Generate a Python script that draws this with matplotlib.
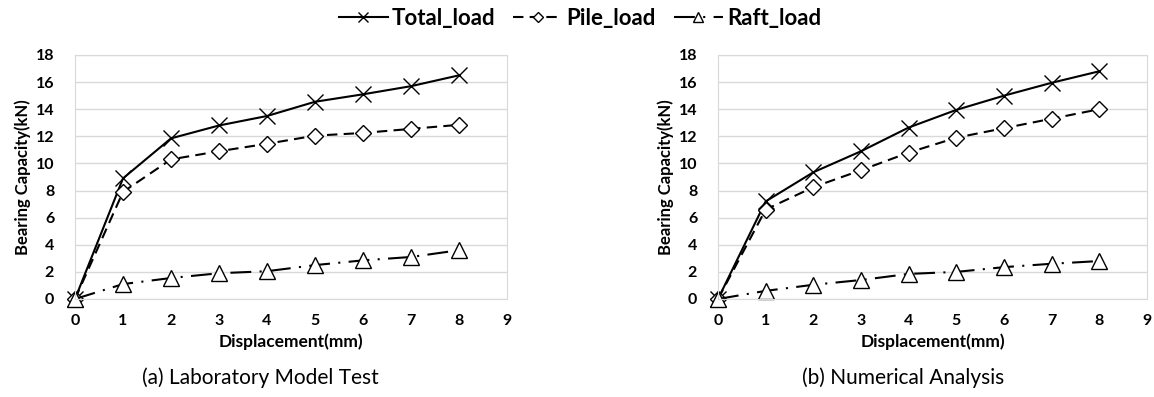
"""Bearing capacity vs displacement: lab test and numerical analysis."""

import matplotlib
matplotlib.use("Agg")
import matplotlib.pyplot as plt

plt.rcParams["font.family"] = ["Lato", "DejaVu Sans"]

displacement = [0, 1, 2, 3, 4, 5, 6, 7, 8]

lab_total = [0, 8.9, 11.85, 12.8, 13.5, 14.55, 15.1, 15.7, 16.5]
lab_pile = [0, 7.9, 10.3, 10.9, 11.45, 12.05, 12.25, 12.55, 12.85]
lab_raft = [0, 1.1, 1.55, 1.9, 2.05, 2.5, 2.85, 3.1, 3.6]

num_total = [0, 7.2, 9.35, 10.9, 12.65, 13.95, 15.0, 15.95, 16.8]
num_pile = [0, 6.6, 8.25, 9.5, 10.8, 11.9, 12.6, 13.3, 14.0]
num_raft = [0, 0.6, 1.05, 1.4, 1.85, 2.0, 2.35, 2.6, 2.8]

captions = ["(a) Laboratory Model Test", "(b) Numerical Analysis"]

W, H = 1154, 397


def draw(ax, total, pile, raft):
    ax.plot(displacement, total, color="black", lw=1.5, ls="-",
            marker="x", ms=11, mew=1.0, label="Total_load")
    ax.plot(displacement, pile, color="black", lw=1.5, ls=(0, (5, 3)),
            marker="D", ms=8, mfc="white", mew=1.0, label="Pile_load")
    ax.plot(displacement, raft, color="black", lw=1.5, ls=(0, (10, 4, 1, 4)),
            marker="^", ms=12, mfc="white", mew=1.0, label="Raft_load")
    ax.set_xlim(0, 9)
    ax.set_ylim(0, 18)
    ax.set_xticks(range(0, 10))
    ax.set_yticks(range(0, 19, 2))
    ax.grid(axis="y", color="#d9d9d9", lw=1.0)
    ax.set_axisbelow(True)
    for side in ax.spines.values():
        side.set_color("#d9d9d9")
    ax.tick_params(axis="y", length=0, labelsize=11.5, pad=15)
    ax.tick_params(axis="x", length=0, labelsize=11.5, pad=11)
    for lab in ax.get_xticklabels() + ax.get_yticklabels():
        lab.set_fontweight("bold")
    ax.set_xlabel("Displacement(mm)", fontsize=12.5, fontweight="bold", labelpad=4)
    ax.set_ylabel("Bearing Capacity(kN)", fontsize=12, fontweight="bold", labelpad=3)
    for line in ax.get_lines():
        line.set_clip_on(False)


fig = plt.figure(figsize=(W / 100, H / 100), dpi=100)
ax1 = fig.add_axes([75 / W, 1 - 299 / H, 432 / W, 244 / H])
ax2 = fig.add_axes([718 / W, 1 - 299 / H, 429 / W, 244 / H])

draw(ax1, lab_total, lab_pile, lab_raft)
draw(ax2, num_total, num_pile, num_raft)

fig.text(260 / W, 1 - 378 / H, captions[0], ha="center", va="center", fontsize=15)
fig.text(903 / W, 1 - 378 / H, captions[1], ha="center", va="center", fontsize=15)

handles, labels = ax1.get_legend_handles_labels()
leg = fig.legend(handles, labels, loc="center", bbox_to_anchor=(580 / W, 1 - 18 / H),
                 ncol=3, frameon=False, handlelength=2.2, handletextpad=0.2,
                 columnspacing=0.8, markerscale=0.6,
                 prop={"weight": "bold", "size": 16})

fig.savefig("out.png", dpi=100)
